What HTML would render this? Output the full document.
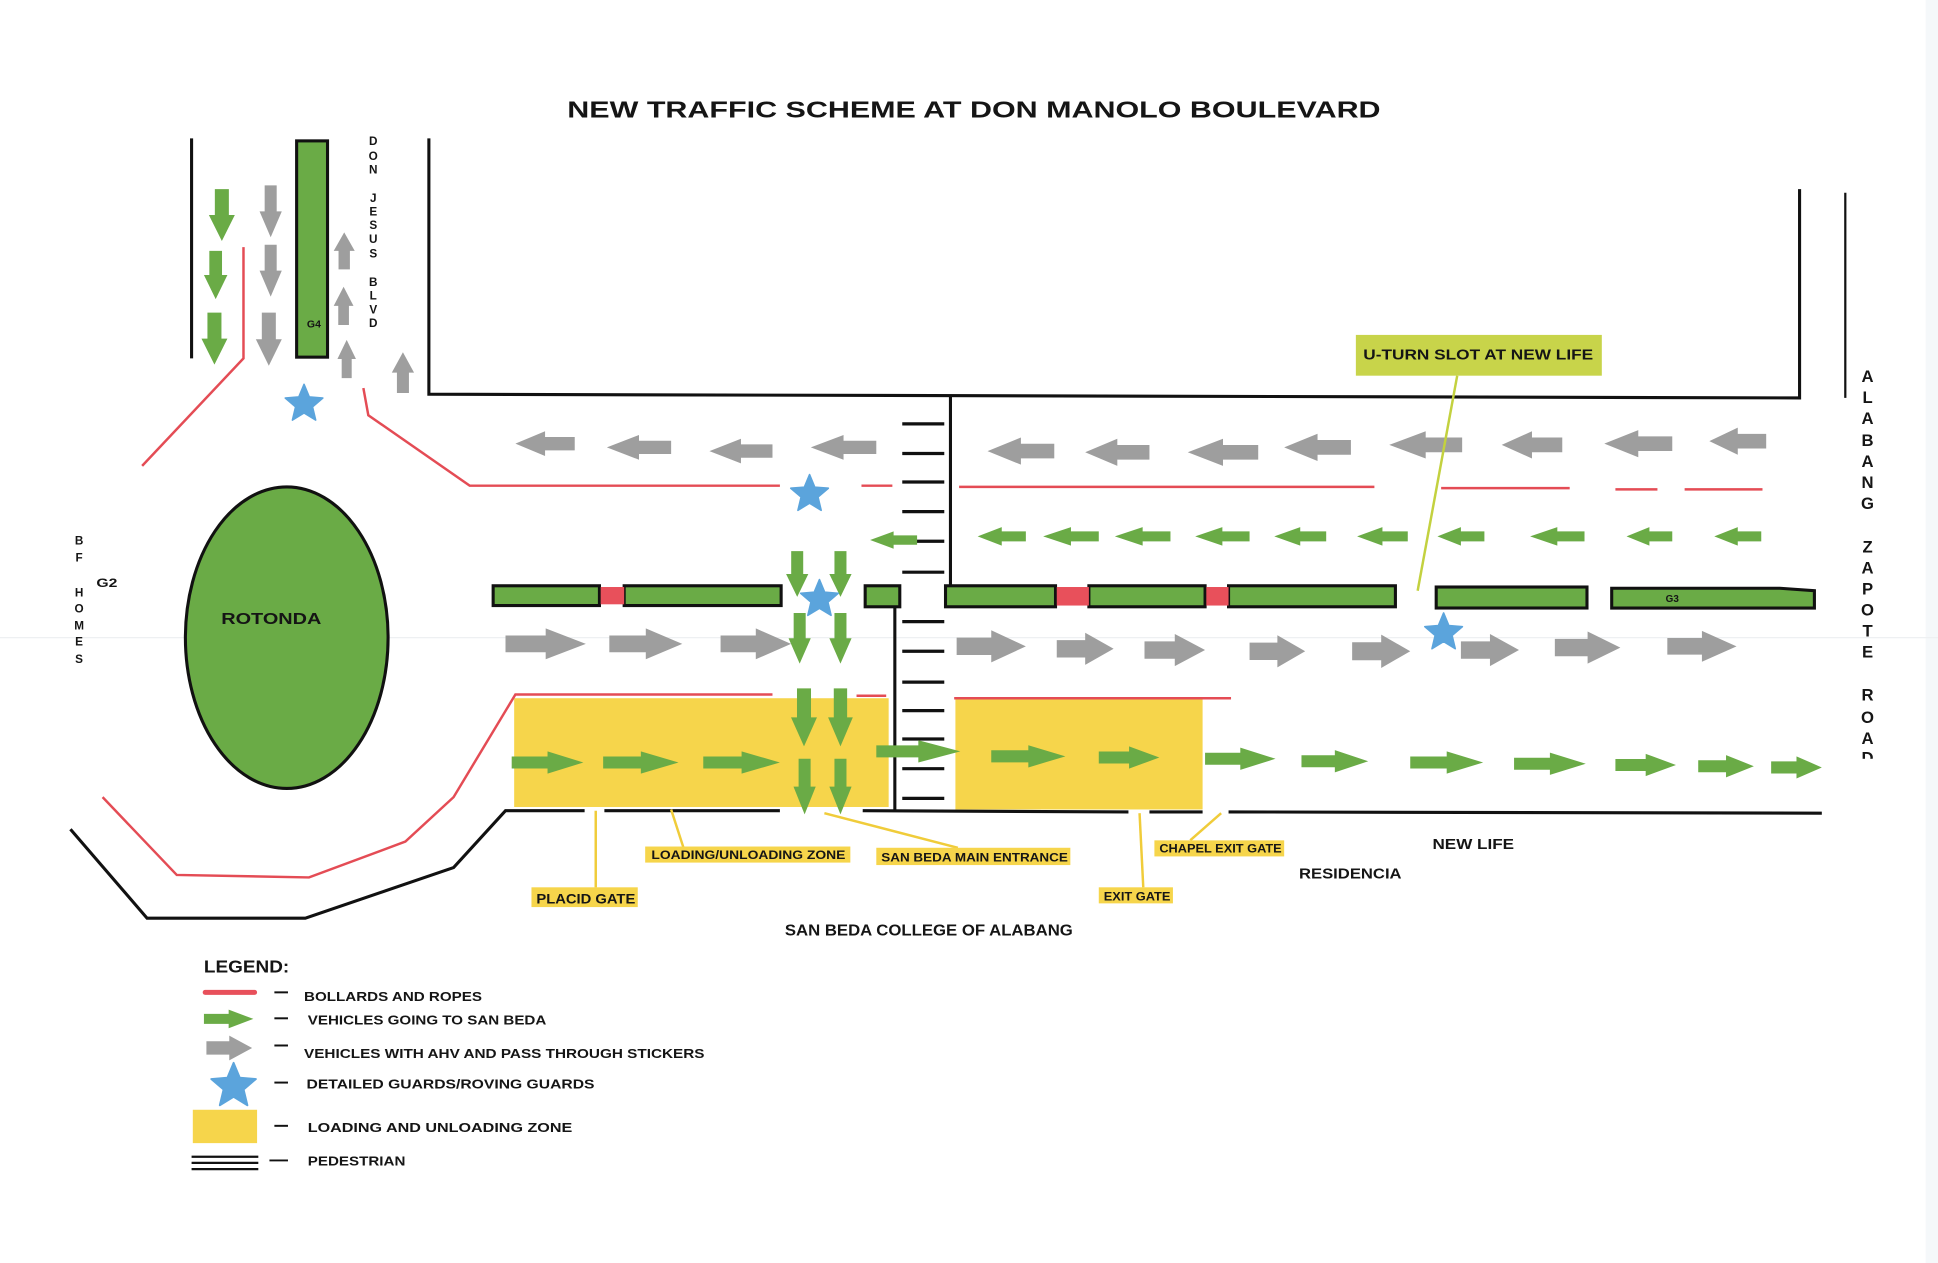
<!DOCTYPE html>
<html><head><meta charset="utf-8"><style>
html,body{margin:0;padding:0;background:#fff;overflow:hidden}
svg{display:block}
text{font-family:"Liberation Sans",sans-serif;font-weight:bold;fill:#151515}
</style></head><body>
<svg width="1938" height="1263" viewBox="0 0 1568 1022" preserveAspectRatio="none" xmlns="http://www.w3.org/2000/svg">
<defs>
<path id="A" d="M0,.23H.5V0L1,.5L.5,1V.77H0Z"/>
<path id="S" d="M0,-1L.2645,-.364L.951,-.309L.428,.139L.588,.809L0,.45L-.588,.809L-.428,.139L-.951,-.309L-.2645,-.364Z"/>
</defs>
<rect x="0" y="0" width="1568" height="1022" fill="#fff"/>
<rect x="1558" y="0" width="10" height="1022" fill="#f5f8fa"/>
<line x1="0" y1="516" x2="1568" y2="516" stroke="#eef0f2" stroke-width="1"/>

<!-- title -->
<text x="459" y="95" font-size="19" textLength="658" lengthAdjust="spacingAndGlyphs">NEW TRAFFIC SCHEME AT DON MANOLO BOULEVARD</text>

<!-- yellow zones -->
<rect x="416" y="565" width="303" height="88" fill="#f6d54b"/>
<rect x="773" y="565" width="200" height="90" fill="#f6d54b"/>

<!-- black road lines -->
<g stroke="#111" stroke-width="2.5" fill="none">
<path d="M155,112V290"/>
<path d="M347,112V319L1456,322V153"/>
<path d="M1493,156V322" stroke-width="1.8"/>
<path d="M769,320V473"/>
<path d="M724,491V656"/>
<path d="M57,671L119,743L247,743L367,702L409,656H473"/>
<path d="M489,656H631"/>
<path d="M698,656L913,657"/>
<path d="M930,657H973"/>
<path d="M994,657L1474,658"/>
</g>

<!-- crosswalk -->
<g stroke="#111" stroke-width="2.6">
<path d="M730,343H764M730,367H764M730,390H764M730,414H764M730,438H764M730,463H764M730,503H764M730,527H764M730,552H764M730,575H764M730,598H764M730,622H764M730,646H764"/>
</g>

<!-- red bollards/ropes -->
<g stroke="#e44c55" stroke-width="2" fill="none">
<path d="M197,200V290L115,377"/>
<path d="M294,314L298,336L380,393H631"/>
<path d="M697,393H722"/>
<path d="M776,394H1112"/>
<path d="M1166,395H1270"/>
<path d="M1307,396H1341"/>
<path d="M1363,396H1426"/>
<path d="M83,645L143,708L250,710L328,681L367,645L417,562H625"/>
<path d="M693,563H717"/>
<path d="M772,565H996"/>
</g>

<!-- medians -->
<g fill="#6aab46" stroke="#111" stroke-width="2.5">
<rect x="240" y="114" width="25" height="175"/>
<rect x="399" y="474" width="86" height="16"/>
<rect x="505" y="474" width="127" height="16"/>
<rect x="700" y="474" width="28" height="17"/>
<rect x="765" y="474" width="89" height="17"/>
<rect x="881" y="474" width="94" height="17"/>
<rect x="994" y="474" width="135" height="17"/>
<rect x="1162" y="475" width="122" height="17"/>
<path d="M1304,476H1440L1468,478V492H1304Z"/>
</g>
<g fill="#e8505b">
<rect x="486" y="475" width="19" height="14"/>
<rect x="855" y="475" width="26" height="15"/>
<rect x="976" y="475" width="18" height="15"/>
</g>
<text x="254" y="265" font-size="8.5" text-anchor="middle" font-weight="normal">G4</text>
<text x="1353" y="487" font-size="8" text-anchor="middle" font-weight="normal">G3</text>

<!-- rotonda -->
<ellipse cx="232" cy="516" rx="82" ry="122" fill="#6aab46" stroke="#111" stroke-width="2.5"/>
<text x="179" y="505" font-size="12.5" textLength="81" lengthAdjust="spacingAndGlyphs">ROTONDA</text>

<!-- gray arrows -->
<g fill="#9e9e9e">
<use href="#A" transform="matrix(0,42,18,0,210,150)"/>
<use href="#A" transform="matrix(0,42,18,0,210,198)"/>
<use href="#A" transform="matrix(0,43,21,0,207,253)"/>
<use href="#A" transform="matrix(0,-30,17,0,270,218)"/>
<use href="#A" transform="matrix(0,-31,16,0,270,263)"/>
<use href="#A" transform="matrix(0,-31,15,0,273,306)"/>
<use href="#A" transform="matrix(0,-33,18,0,317,318)"/>

<use href="#A" transform="translate(465,349) scale(-48,20)"/>
<use href="#A" transform="translate(543,352) scale(-52,20)"/>
<use href="#A" transform="translate(625,355) scale(-51,20)"/>
<use href="#A" transform="translate(709,352) scale(-53,20)"/>
<use href="#A" transform="translate(853,354) scale(-54,22)"/>
<use href="#A" transform="translate(930,355) scale(-52,22)"/>
<use href="#A" transform="translate(1018,355) scale(-57,22)"/>
<use href="#A" transform="translate(1093,351) scale(-54,22)"/>
<use href="#A" transform="translate(1183,349) scale(-59,22)"/>
<use href="#A" transform="translate(1264,349) scale(-49,22)"/>
<use href="#A" transform="translate(1353,348) scale(-55,22)"/>
<use href="#A" transform="translate(1429,346) scale(-46,22)"/>

<use href="#A" transform="translate(409,508.5) scale(65,25)"/>
<use href="#A" transform="translate(493,508.5) scale(59,25)"/>
<use href="#A" transform="translate(583,508.5) scale(57,25)"/>
<use href="#A" transform="translate(774,510) scale(56,26)"/>
<use href="#A" transform="translate(855,512) scale(46,26)"/>
<use href="#A" transform="translate(926,513) scale(49,26)"/>
<use href="#A" transform="translate(1011,514) scale(45,26)"/>
<use href="#A" transform="translate(1094,513.5) scale(47,27)"/>
<use href="#A" transform="translate(1182,513) scale(47,26)"/>
<use href="#A" transform="translate(1258,511) scale(53,26)"/>
<use href="#A" transform="translate(1349,510.5) scale(56,25)"/>
</g>

<!-- green arrows -->
<g fill="#6aab46">
<use href="#A" transform="matrix(0,42,21,0,169,153)"/>
<use href="#A" transform="matrix(0,39,19,0,165,203)"/>
<use href="#A" transform="matrix(0,42,21,0,163,253)"/>

<use href="#A" transform="translate(742,430) scale(-38,14)"/>
<use href="#A" transform="translate(830,426.5) scale(-39,15)"/>
<use href="#A" transform="translate(889,426.5) scale(-45,15)"/>
<use href="#A" transform="translate(947,426.5) scale(-45,15)"/>
<use href="#A" transform="translate(1011,426.5) scale(-44,15)"/>
<use href="#A" transform="translate(1073,426.5) scale(-42,15)"/>
<use href="#A" transform="translate(1139,426.5) scale(-41,15)"/>
<use href="#A" transform="translate(1201,426.5) scale(-38,15)"/>
<use href="#A" transform="translate(1282,426.5) scale(-44,15)"/>
<use href="#A" transform="translate(1353,426.5) scale(-37,15)"/>
<use href="#A" transform="translate(1425,426.5) scale(-38,15)"/>

<use href="#A" transform="matrix(0,37,18,0,636,446)"/>
<use href="#A" transform="matrix(0,37,18,0,671,446)"/>
<use href="#A" transform="matrix(0,41,18,0,638,496)"/>
<use href="#A" transform="matrix(0,41,18,0,671,496)"/>
<use href="#A" transform="matrix(0,47,21,0,640,557)"/>
<use href="#A" transform="matrix(0,47,20,0,670,557)"/>
<use href="#A" transform="matrix(0,45,18,0,642,614)"/>
<use href="#A" transform="matrix(0,45,18,0,671,614)"/>

<use href="#A" transform="translate(414,608) scale(58,18)"/>
<use href="#A" transform="translate(488,608) scale(61,18)"/>
<use href="#A" transform="translate(569,608) scale(62,18)"/>
<use href="#A" transform="translate(709,599) scale(68,18)"/>
<use href="#A" transform="translate(802,603) scale(60,18)"/>
<use href="#A" transform="translate(889,604) scale(49,18)"/>
<use href="#A" transform="translate(975,605) scale(57,18)"/>
<use href="#A" transform="translate(1053,607) scale(54,18)"/>
<use href="#A" transform="translate(1141,608) scale(59,18)"/>
<use href="#A" transform="translate(1225,609) scale(58,18)"/>
<use href="#A" transform="translate(1307,610) scale(49,18)"/>
<use href="#A" transform="translate(1374,611) scale(45,18)"/>
<use href="#A" transform="translate(1433,612) scale(41,18)"/>
</g>

<!-- stars -->
<g fill="#5ba4dc" stroke="#5ba4dc" stroke-linejoin="round" stroke-width="0.08">
<use href="#S" transform="translate(246,327) scale(16)"/>
<use href="#S" transform="translate(655,400) scale(16)"/>
<use href="#S" transform="translate(663,485) scale(16)"/>
<use href="#S" transform="translate(1168,512) scale(16)"/>
</g>

<!-- U-turn label -->
<line x1="1179" y1="304" x2="1147" y2="478" stroke="#c3d13f" stroke-width="2"/>
<rect x="1097" y="271" width="199" height="33" fill="#c8d44a"/>
<text x="1103" y="291" font-size="12" textLength="186" lengthAdjust="spacingAndGlyphs">U-TURN SLOT AT NEW LIFE</text>

<!-- gate labels -->
<g stroke="#f0cc3a" stroke-width="2">
<line x1="543" y1="655" x2="553" y2="686"/>
<line x1="667" y1="658" x2="775" y2="686"/>
<line x1="482" y1="656" x2="482" y2="718"/>
<line x1="988" y1="658" x2="963" y2="680"/>
<line x1="922" y1="658" x2="925" y2="718"/>
</g>
<g fill="#f6d54b">
<rect x="522" y="685" width="166" height="13"/>
<rect x="709" y="686" width="157" height="14"/>
<rect x="430" y="718" width="86" height="16"/>
<rect x="934" y="680" width="105" height="13"/>
<rect x="889" y="718" width="60" height="13"/>
</g>
<g font-size="10">
<text x="527" y="695" textLength="157" lengthAdjust="spacingAndGlyphs">LOADING/UNLOADING ZONE</text>
<text x="713" y="697" textLength="151" lengthAdjust="spacingAndGlyphs">SAN BEDA MAIN ENTRANCE</text>
<text x="434" y="731" textLength="80" lengthAdjust="spacingAndGlyphs" font-size="11">PLACID GATE</text>
<text x="938" y="690" textLength="99" lengthAdjust="spacingAndGlyphs">CHAPEL EXIT GATE</text>
<text x="893" y="728.5" textLength="54" lengthAdjust="spacingAndGlyphs">EXIT GATE</text>
</g>
<text x="1159" y="687" font-size="12" textLength="66" lengthAdjust="spacingAndGlyphs">NEW LIFE</text>
<text x="1051" y="711" font-size="12" textLength="83" lengthAdjust="spacingAndGlyphs">RESIDENCIA</text>
<text x="635" y="757" font-size="12.5" textLength="233" lengthAdjust="spacingAndGlyphs">SAN BEDA COLLEGE OF ALABANG</text>

<!-- vertical street names -->
<g font-size="9.5" text-anchor="middle">
<text x="302" y="117.5">D</text><text x="302" y="129.5">O</text><text x="302" y="140.5">N</text>
<text x="302" y="163.5">J</text><text x="302" y="174.5">E</text><text x="302" y="185.5">S</text><text x="302" y="196.5">U</text><text x="302" y="208.5">S</text>
<text x="302" y="231.5">B</text><text x="302" y="242.5">L</text><text x="302" y="253.5">V</text><text x="302" y="264.5">D</text>
</g>
<g font-size="9.5" text-anchor="middle">
<text x="64" y="440.5">B</text><text x="64" y="454.5">F</text>
<text x="64" y="482.5">H</text><text x="64" y="495.5">O</text><text x="64" y="509.5">M</text><text x="64" y="522.5">E</text><text x="64" y="536.5">S</text>
</g>
<text x="78" y="475" font-size="10" textLength="17" lengthAdjust="spacingAndGlyphs" font-weight="normal">G2</text>
<g font-size="13.5" text-anchor="middle">
<text x="1511" y="309">A</text><text x="1511" y="326">L</text><text x="1511" y="343">A</text><text x="1511" y="361">B</text><text x="1511" y="378">A</text><text x="1511" y="395">N</text><text x="1511" y="412">G</text>
<text x="1511" y="447">Z</text><text x="1511" y="464">A</text><text x="1511" y="481">P</text><text x="1511" y="498">O</text><text x="1511" y="515">T</text><text x="1511" y="532">E</text>
<text x="1511" y="567">R</text><text x="1511" y="585">O</text><text x="1511" y="602">A</text><text x="1511" y="618">D</text>
</g>
<rect x="1500" y="614" width="24" height="10" fill="#fff"/>

<!-- legend -->
<text x="165" y="787" font-size="14" textLength="69" lengthAdjust="spacingAndGlyphs">LEGEND:</text>
<line x1="166" y1="803" x2="206" y2="803" stroke="#e8505b" stroke-width="4" stroke-linecap="round"/>
<use href="#A" transform="translate(165,817) scale(40,15)" fill="#6aab46"/>
<use href="#A" transform="translate(167,838) scale(37,20)" fill="#9e9e9e"/>
<use href="#S" transform="translate(189,879) scale(19)" fill="#5ba4dc" stroke="#5ba4dc" stroke-width="0.08" stroke-linejoin="round"/>
<rect x="156" y="898" width="52" height="27" fill="#f6d54b"/>
<g stroke="#111" stroke-width="1.8">
<line x1="155" y1="936" x2="209" y2="936"/>
<line x1="155" y1="941" x2="209" y2="941"/>
<line x1="155" y1="946" x2="209" y2="946"/>
</g>
<g stroke="#111" stroke-width="1.6">
<line x1="222" y1="803" x2="233" y2="803"/>
<line x1="222" y1="824" x2="233" y2="824"/>
<line x1="222" y1="846" x2="233" y2="846"/>
<line x1="222" y1="876" x2="233" y2="876"/>
<line x1="222" y1="911" x2="233" y2="911"/>
<line x1="218" y1="939" x2="233" y2="939"/>
</g>
<g font-size="10.5">
<text x="246" y="810" textLength="144" lengthAdjust="spacingAndGlyphs">BOLLARDS AND ROPES</text>
<text x="249" y="829" textLength="193" lengthAdjust="spacingAndGlyphs">VEHICLES GOING TO SAN BEDA</text>
<text x="246" y="856" textLength="324" lengthAdjust="spacingAndGlyphs">VEHICLES WITH AHV AND PASS THROUGH STICKERS</text>
<text x="248" y="881" textLength="233" lengthAdjust="spacingAndGlyphs">DETAILED GUARDS/ROVING GUARDS</text>
<text x="249" y="916" textLength="214" lengthAdjust="spacingAndGlyphs">LOADING AND UNLOADING ZONE</text>
<text x="249" y="943" textLength="79" lengthAdjust="spacingAndGlyphs">PEDESTRIAN</text>
</g>
</svg>
</body></html>
